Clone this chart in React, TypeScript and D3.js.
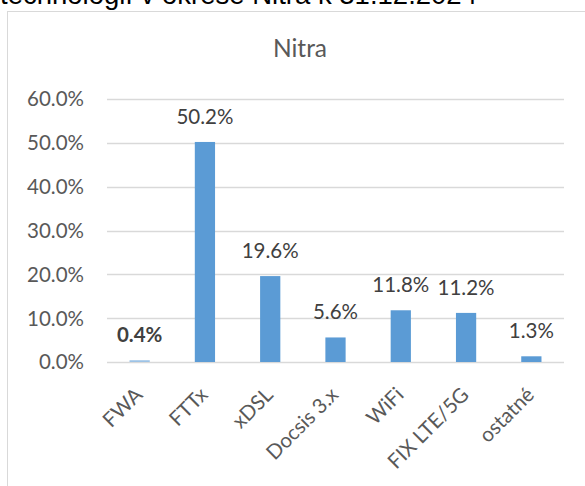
import React from "react";
import { scaleBand, scaleLinear, format } from "d3";

const categories = ["FWA", "FTTx", "xDSL", "Docsis 3.x", "WiFi", "FIX LTE/5G", "ostatné"];
const values = [0.004, 0.502, 0.196, 0.056, 0.118, 0.112, 0.013];
const boldLabels = [true, false, false, false, false, false, false];
const yTicks = [0, 0.1, 0.2, 0.3, 0.4, 0.5, 0.6];
const chartTitle = "Nitra";
const headerText = "technológií v okrese Nitra k 31.12.2024";

const W = 585;
const H = 486;
const plot = { left: 107, right: 564, top: 99, bottom: 362 };
const font = "Lato, 'Open Sans', sans-serif";
const fs = 20.5;

const App: React.FC = () => {
  const x = scaleBand<string>()
    .domain(categories)
    .range([plot.left, plot.right])
    .paddingInner(0.69)
    .paddingOuter(0.345);

  const y = scaleLinear().domain([0, 0.6]).range([plot.bottom, plot.top]);
  const pct = format(".1%");

  return (
    <svg
      width={W}
      height={H}
      style={{ position: "absolute", left: 0, top: 0, background: "#fff" }}
    >
      {/* heading of the page above the chart, mostly cut off */}
      <text
        x={0}
        y={4}
        fontFamily="'Liberation Sans', Arial, sans-serif"
        fontSize={27.5}
        fill="#000"
      >
        {headerText}
      </text>

      {/* chart frame, runs past the right and bottom edge */}
      <rect x={7.5} y={11.5} width={620} height={520} fill="#fff" stroke="#d9d9d9" />

      <text
        x={300}
        y={57}
        textAnchor="middle"
        fontFamily={font}
        fontSize={24.5}
        fill="#595959"
      >
        {chartTitle}
      </text>

      {yTicks.map((t) => (
        <g key={t}>
          <line
            x1={plot.left}
            x2={plot.right}
            y1={Math.round(y(t)) + 0.5}
            y2={Math.round(y(t)) + 0.5}
            stroke="#d9d9d9"
            strokeWidth={1.5}
          />
          <text
            x={84}
            y={y(t)}
            dy="0.36em"
            textAnchor="end"
            fontFamily={font}
            fontSize={fs}
            fill="#595959"
          >
            {pct(t)}
          </text>
        </g>
      ))}

      {categories.map((c, i) => (
        <rect
          key={c}
          x={x(c)}
          y={y(values[i])}
          width={x.bandwidth()}
          height={y(0) - y(values[i])}
          fill={i === 0 ? "#9dc3e6" : "#5b9bd5"}
        />
      ))}

      {categories.map((c, i) => (
        <text
          key={c}
          x={(x(c) as number) + x.bandwidth() / 2}
          y={y(values[i]) - 18}
          textAnchor="middle"
          fontFamily={font}
          fontSize={fs}
          fontWeight={boldLabels[i] ? 700 : 400}
          fill="#404040"
        >
          {pct(values[i])}
        </text>
      ))}

      {categories.map((c) => {
        const cx = (x(c) as number) + x.bandwidth() / 2;
        return (
          <text
            key={c}
            transform={`translate(${cx - 1},${plot.bottom + 29})rotate(-45)`}
            textAnchor="end"
            dy="0.35em"
            fontFamily={font}
            fontSize={fs}
            fill="#595959"
          >
            {c}
          </text>
        );
      })}
    </svg>
  );
};

export default App;
